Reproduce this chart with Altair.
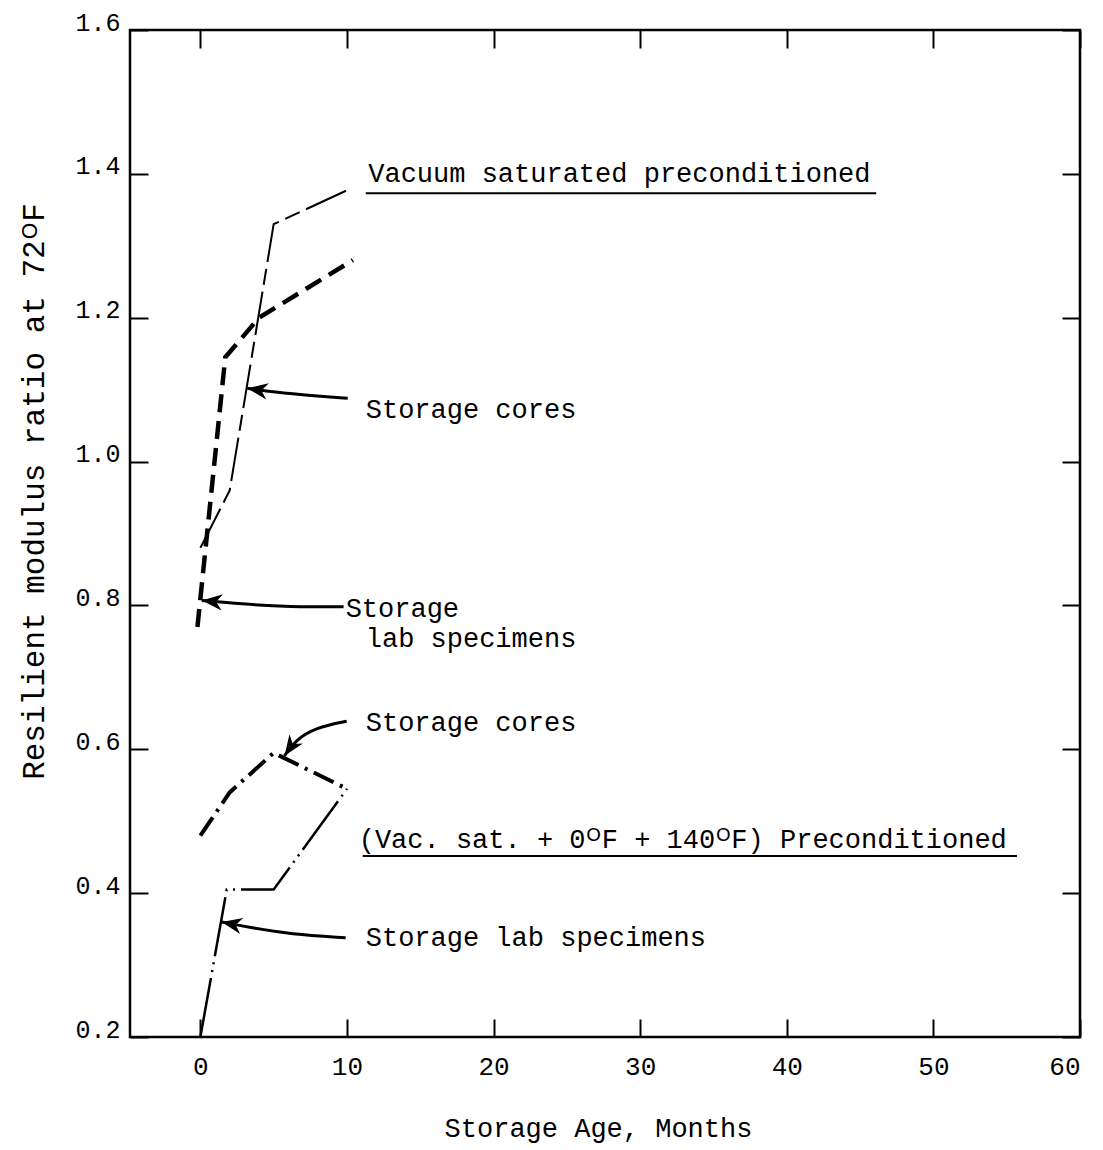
import math
import altair as alt
import pandas as pd

FONT = "Liberation Mono"
X_MIN, X_MAX = -4.8, 60
Y_MIN, Y_MAX = 0.2, 1.6
W, H = 950, 1007
PX_X = W / (X_MAX - X_MIN)
PX_Y = H / (Y_MAX - Y_MIN)

# Resilient modulus ratio at 72 F versus storage age
vac_cores_month = [0, 2, 5, 10.3]
vac_cores_ratio = [0.88, 0.96, 1.33, 1.38]
vac_lab_month = [-0.2, 1.7, 4, 10.4]
vac_lab_ratio = [0.77, 1.145, 1.2, 1.28]
cyc_cores_month = [0, 2, 5, 10]
cyc_cores_ratio = [0.48, 0.54, 0.595, 0.545]
cyc_lab_month = [0, 1.8, 5, 10]
cyc_lab_ratio = [0.2, 0.405, 0.405, 0.545]

series_names = ["vac_cores", "vac_lab", "cyc_cores", "cyc_lab"]
series_months = [vac_cores_month, vac_lab_month, cyc_cores_month, cyc_lab_month]
series_ratios = [vac_cores_ratio, vac_lab_ratio, cyc_cores_ratio, cyc_lab_ratio]

# line style of each curve: (stroke width, dash pattern)
series_style = {
    "vac_cores": (2, [44, 7, 16, 7]),
    "vac_lab": (4.5, [18, 9]),
    "cyc_cores": (4, [22, 7, 3, 7]),
    "cyc_lab": (2.5, [60, 6, 2, 6, 2, 6]),
}

x_ticks = [0, 10, 20, 30, 40, 50, 60]
y_ticks = [0.2, 0.4, 0.6, 0.8, 1.0, 1.2, 1.4, 1.6]

# Annotation texts (left edge, baseline)
note_text = [
    "Vacuum saturated preconditioned",
    "Storage cores",
    "Storage",
    "lab specimens",
    "Storage cores",
    "(Vac. sat. + 0\u1d3cF + 140\u1d3cF) Preconditioned",
    "Storage lab specimens",
]
note_x = [11.45, 11.28, 9.91, 11.28, 11.28, 10.8, 11.28]
note_y = [1.388, 1.061, 0.784, 0.742, 0.625, 0.463, 0.3265]

# Underlines under the two group headings
under_x = [11.28, 11.07]
under_x2 = [46.1, 55.7]
under_y = [1.373, 0.4517]

# Leader arrows: from the label to the curve (last point is the tip)
arrow_x = [
    [10.05, 6.84, 4.44, 3.2],
    [9.77, 6.15, 2.73, 0.1],
    [9.98, 7.86, 6.49, 5.74],
    [9.91, 6.15, 3.42, 1.45],
]
arrow_y = [
    [1.088, 1.093, 1.098, 1.102],
    [0.798, 0.798, 0.802, 0.807],
    [0.639, 0.630, 0.613, 0.591],
    [0.338, 0.343, 0.352, 0.360],
]

rows = []
for name, xs, ys in zip(series_names, series_months, series_ratios):
    for i, (xv, yv) in enumerate(zip(xs, ys)):
        rows.append({"series": name, "i": i, "month": xv, "ratio": yv})
lines_df = pd.DataFrame(rows)

notes_df = pd.DataFrame({"month": note_x, "ratio": note_y, "text": note_text})
under_df = pd.DataFrame({"month": under_x, "month2": under_x2, "ratio": under_y})

arrow_rows, head_rows = [], []
for k, (xs, ys) in enumerate(zip(arrow_x, arrow_y)):
    for i, (xv, yv) in enumerate(zip(xs, ys)):
        arrow_rows.append({"arrow": k, "i": i, "month": xv, "ratio": yv})
    dx = (xs[-1] - xs[-2]) * PX_X
    dy = -(ys[-1] - ys[-2]) * PX_Y
    ang = math.degrees(math.atan2(dy, dx)) % 360
    head_rows.append({"month": xs[-1], "ratio": ys[-1], "angle": ang})
arrows_df = pd.DataFrame(arrow_rows)
heads_df = pd.DataFrame(head_rows)

x_scale = alt.Scale(domain=[X_MIN, X_MAX], nice=False, zero=False)
y_scale = alt.Scale(domain=[Y_MIN, Y_MAX], nice=False, zero=False)

x_axis = alt.Axis(
    orient="bottom", values=x_ticks, format="d", offset=-18, tickSize=18,
    tickWidth=2, tickColor="black", domain=False, grid=False,
    labelFont=FONT, labelFontSize=26, labelColor="black", labelPadding=16,
    title="Storage Age, Months", titleFont=FONT, titleFontSize=27,
    titleFontWeight="normal", titleColor="black", titlePadding=36, titleX=468,
)
y_axis = alt.Axis(
    orient="left", values=y_ticks, format=".1f", offset=-18, tickSize=18,
    tickWidth=2, tickColor="black", domain=False, grid=False,
    labelFont=FONT, labelFontSize=25, labelColor="black", labelPadding=10,
    labelBaseline="alphabetic",
    title="Resilient modulus ratio at 72\u1d3cF", titleFont=FONT, titleFontSize=31,
    titleFontWeight="normal", titleColor="black", titlePadding=24, titleY=461,
)
x_axis_top = alt.Axis(
    orient="top", values=x_ticks, offset=-18, tickSize=18, tickWidth=2,
    tickColor="black", domain=False, grid=False, labels=False, title=None,
)
y_axis_right = alt.Axis(
    orient="right", values=y_ticks, offset=-18, tickSize=18, tickWidth=2,
    tickColor="black", domain=False, grid=False, labels=False, title=None,
)

# the first curve carries the bottom/left axes, the others none
curve_layers = []
for n, name in enumerate(series_names):
    sw, dash = series_style[name]
    curve_layers.append(
        alt.Chart(lines_df)
        .transform_filter(alt.datum.series == name)
        .mark_line(color="black", strokeCap="butt", strokeWidth=sw, strokeDash=dash)
        .encode(
            x=alt.X("month:Q", scale=x_scale, axis=x_axis if n == 0 else None),
            y=alt.Y("ratio:Q", scale=y_scale, axis=y_axis if n == 0 else None),
            order="i:Q",
        )
    )

frame_ticks = alt.Chart(lines_df).mark_point(opacity=0).encode(
    x=alt.X("month:Q", scale=x_scale, axis=x_axis_top),
    y=alt.Y("ratio:Q", scale=y_scale, axis=y_axis_right),
)

notes = alt.Chart(notes_df).mark_text(
    font=FONT, fontSize=27, align="left", baseline="alphabetic", color="black"
).encode(
    x=alt.X("month:Q", scale=x_scale, axis=None),
    y=alt.Y("ratio:Q", scale=y_scale, axis=None),
    text="text:N",
)

underlines = alt.Chart(under_df).mark_rule(color="black", strokeWidth=2).encode(
    x=alt.X("month:Q", scale=x_scale, axis=None),
    x2="month2:Q",
    y=alt.Y("ratio:Q", scale=y_scale, axis=None),
)

arrow_lines = alt.Chart(arrows_df).mark_line(
    color="black", strokeWidth=3, interpolate="basis"
).encode(
    x=alt.X("month:Q", scale=x_scale, axis=None),
    y=alt.Y("ratio:Q", scale=y_scale, axis=None),
    detail="arrow:N",
    order="i:Q",
)

arrow_heads = alt.Chart(heads_df).mark_point(
    shape="M0,0 L-2,-0.8 L-1.4,0 L-2,0.8 Z",
    filled=True, color="black", size=420, opacity=1,
).encode(
    x=alt.X("month:Q", scale=x_scale, axis=None),
    y=alt.Y("ratio:Q", scale=y_scale, axis=None),
    angle=alt.Angle("angle:Q", scale=None),
)

chart = (
    alt.layer(*curve_layers, frame_ticks, underlines, arrow_lines, arrow_heads, notes)
    .resolve_axis(x="independent", y="independent")
    .properties(
        width=W,
        height=H,
        autosize=alt.AutoSizeParams(type="none"),
        padding={"left": 130, "top": 30, "right": 23, "bottom": 113},
        background="white",
    )
    .configure_view(stroke="black", strokeWidth=2.5)
)

chart.save("out.html", embed_options={"renderer": "svg", "actions": False})
